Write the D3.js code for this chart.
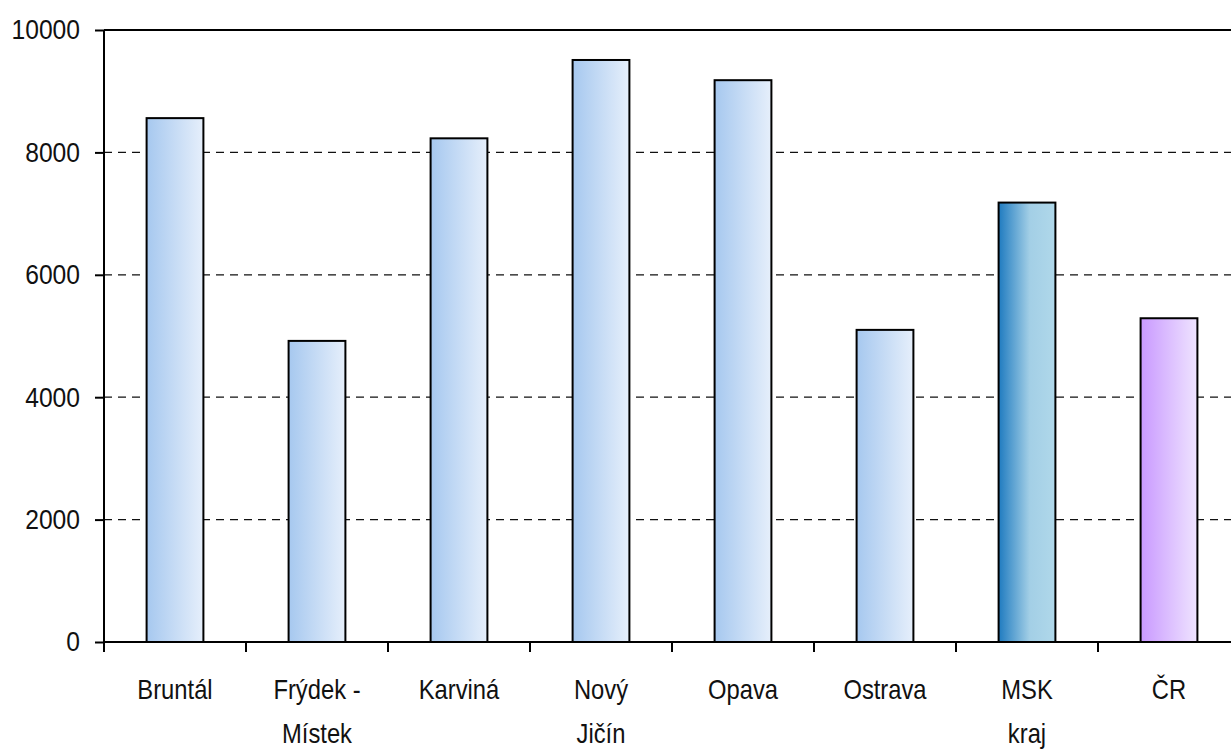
<!DOCTYPE html>
<html>
<head>
<meta charset="utf-8">
<script src="https://cdn.jsdelivr.net/npm/d3@7"></script>
<style>
  body { margin: 0; background: #fff; }
  text { font-family: "Liberation Sans", Arial, sans-serif; fill: #111; }
</style>
</head>
<body>
<div id="chart"></div>
<script>
const categories = ["Bruntál", "Frýdek -\nMístek", "Karviná", "Nový\nJičín", "Opava", "Ostrava", "MSK\nkraj", "ČR"];
const values = [8560, 4920, 8230, 9510, 9180, 5100, 7180, 5290];
const barKinds = ["okres", "okres", "okres", "okres", "okres", "okres", "kraj", "cr"];
const yTicks = [0, 2000, 4000, 6000, 8000, 10000];

const w = 1231, h = 751;
const padLeft = 104, padTop = 30, padBottom = 642;
const step = 142;
const narrow = 0.88; // fake Arial Narrow

const svg = d3.select("#chart").append("svg")
  .attr("width", w).attr("height", h);

// gradients
const defs = svg.append("defs");
const grads = {
  okres: [["0%", "#a6c8ef"], ["100%", "#e6effb"]],
  kraj: [["0%", "#1f7bc0"], ["55%", "#a3cfe6"], ["100%", "#b0d8ea"]],
  cr: [["0%", "#c999ff"], ["100%", "#efe4ff"]]
};
Object.keys(grads).forEach(k => {
  const g = defs.append("linearGradient").attr("id", "g-" + k)
    .attr("x1", "0%").attr("x2", "100%").attr("y1", "0%").attr("y2", "0%");
  grads[k].forEach(s => g.append("stop").attr("offset", s[0]).attr("stop-color", s[1]));
});

const x = d3.scaleBand()
  .domain(categories)
  .range([padLeft, padLeft + step * categories.length])
  .paddingInner(0.6)
  .paddingOuter(0.3);

const y = d3.scaleLinear()
  .domain([0, 10000])
  .range([padBottom, padTop]);

// dashed gridlines
svg.append("g").selectAll("line")
  .data(yTicks.filter(t => t > 0 && t < 10000))
  .enter().append("line")
  .attr("x1", padLeft).attr("x2", w)
  .attr("y1", d => y(d)).attr("y2", d => y(d))
  .attr("stroke", "#111").attr("stroke-width", 1.3)
  .attr("stroke-dasharray", "8,6");

// top border
svg.append("line")
  .attr("x1", padLeft).attr("x2", w)
  .attr("y1", y(10000)).attr("y2", y(10000))
  .attr("stroke", "#000").attr("stroke-width", 2);

// bars
svg.selectAll("rect.bar")
  .data(values)
  .enter().append("rect")
  .attr("class", "bar")
  .attr("x", (d, i) => x(categories[i]))
  .attr("y", d => y(d))
  .attr("width", x.bandwidth())
  .attr("height", d => y(0) - y(d))
  .attr("fill", (d, i) => "url(#g-" + barKinds[i] + ")")
  .attr("stroke", "#000").attr("stroke-width", 2);

// y axis
const yAxis = d3.axisLeft(y).tickValues(yTicks).tickFormat(d3.format("d")).tickSize(9).tickPadding(15);
const gy = svg.append("g").attr("transform", "translate(" + padLeft + ",0)").call(yAxis);
gy.select(".domain").remove();
gy.selectAll(".tick line").attr("stroke", "#000").attr("stroke-width", 2);
gy.selectAll(".tick text")
  .attr("x", 0)
  .attr("transform", "translate(-24,0) scale(" + narrow + ",1)")
  .style("font-size", "28px").attr("fill", "#111");
svg.append("line")
  .attr("x1", padLeft).attr("x2", padLeft)
  .attr("y1", padTop).attr("y2", padBottom + 10)
  .attr("stroke", "#000").attr("stroke-width", 2);

// x axis
svg.append("line")
  .attr("x1", padLeft).attr("x2", w)
  .attr("y1", padBottom).attr("y2", padBottom)
  .attr("stroke", "#000").attr("stroke-width", 2);
svg.append("g").selectAll("line")
  .data(categories)
  .enter().append("line")
  .attr("x1", d => x(d) - x.step() * 0.3).attr("x2", d => x(d) - x.step() * 0.3)
  .attr("y1", padBottom).attr("y2", padBottom + 10)
  .attr("stroke", "#000").attr("stroke-width", 2);

const labels = svg.append("g").selectAll("text")
  .data(categories)
  .enter().append("text")
  .attr("text-anchor", "middle")
  .attr("transform", d => "translate(" + (x(d) + x.bandwidth() / 2) + ",0) scale(" + narrow + ",1)")
  .style("font-size", "27px");
labels.each(function(d) {
  const t = d3.select(this);
  d.split("\n").forEach((line, j) => {
    t.append("tspan")
      .attr("x", 0)
      .attr("y", 699 + j * 44)
      .text(line);
  });
});
</script>
</body>
</html>
